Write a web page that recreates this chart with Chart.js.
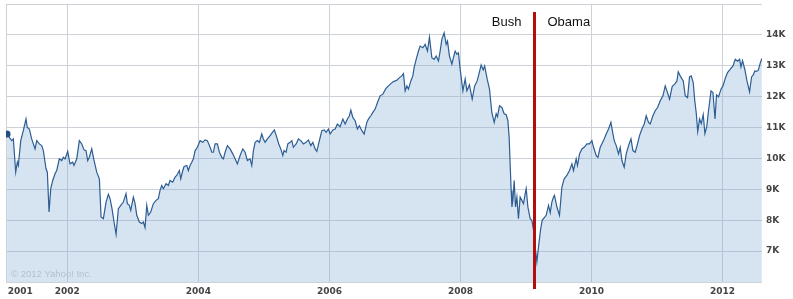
<!DOCTYPE html>
<html>
<head>
<meta charset="utf-8">
<script src="https://cdn.jsdelivr.net/npm/chart.js@4.4.0/dist/chart.umd.min.js"></script>
<style>
  html, body { margin: 0; padding: 0; background: #fff; }
  #chart { display: block; }
</style>
</head>
<body>
<canvas id="chart" width="793" height="299"></canvas>
<script>
// weekly closes: decimal year and index level
const weeks = [
  2001.080, 2001.151, 2001.176, 2001.212, 2001.237, 2001.252, 2001.289, 2001.328, 2001.369, 2001.389,
  2001.420, 2001.456, 2001.507, 2001.533, 2001.573, 2001.609, 2001.634, 2001.675, 2001.695, 2001.721,
  2001.747, 2001.777, 2001.812, 2001.838, 2001.878, 2001.915, 2001.939, 2001.965, 2002.006, 2002.041,
  2002.082, 2002.102, 2002.144, 2002.183, 2002.220, 2002.255, 2002.285, 2002.311, 2002.336, 2002.373,
  2002.408, 2002.449, 2002.489, 2002.515, 2002.550, 2002.591, 2002.626, 2002.652, 2002.682, 2002.713,
  2002.744, 2002.779, 2002.815, 2002.855, 2002.896, 2002.916, 2002.947, 2002.968, 2003.008, 2003.034,
  2003.060, 2003.099, 2003.136, 2003.160, 2003.186, 2003.212, 2003.237, 2003.273, 2003.313, 2003.354,
  2003.389, 2003.415, 2003.441, 2003.466, 2003.507, 2003.542, 2003.568, 2003.609, 2003.644, 2003.670,
  2003.710, 2003.731, 2003.762, 2003.782, 2003.823, 2003.847, 2003.873, 2003.899, 2003.924, 2003.950,
  2003.985, 2004.026, 2004.067, 2004.102, 2004.137, 2004.179, 2004.205, 2004.229, 2004.255, 2004.290,
  2004.321, 2004.357, 2004.382, 2004.408, 2004.443, 2004.484, 2004.525, 2004.560, 2004.595, 2004.637,
  2004.678, 2004.713, 2004.748, 2004.789, 2004.815, 2004.840, 2004.866, 2004.901, 2004.931, 2004.968,
  2004.992, 2005.018, 2005.053, 2005.095, 2005.130, 2005.160, 2005.197, 2005.227, 2005.258, 2005.289,
  2005.308, 2005.339, 2005.365, 2005.400, 2005.426, 2005.450, 2005.492, 2005.527, 2005.563, 2005.603,
  2005.644, 2005.679, 2005.716, 2005.747, 2005.782, 2005.808, 2005.847, 2005.884, 2005.919, 2005.950,
  2005.985, 2006.011, 2006.052, 2006.087, 2006.122, 2006.163, 2006.205, 2006.240, 2006.275, 2006.305,
  2006.327, 2006.357, 2006.392, 2006.427, 2006.458, 2006.495, 2006.530, 2006.571, 2006.595, 2006.632,
  2006.663, 2006.698, 2006.733, 2006.774, 2006.815, 2006.866, 2006.901, 2006.937, 2006.977, 2007.029,
  2007.069, 2007.105, 2007.130, 2007.156, 2007.182, 2007.206, 2007.243, 2007.273, 2007.293, 2007.324,
  2007.359, 2007.385, 2007.426, 2007.461, 2007.496, 2007.527, 2007.563, 2007.598, 2007.629, 2007.664,
  2007.690, 2007.716, 2007.751, 2007.782, 2007.802, 2007.832, 2007.869, 2007.893, 2007.919, 2007.945,
  2007.969, 2007.995, 2008.037, 2008.072, 2008.098, 2008.137, 2008.179, 2008.217, 2008.255, 2008.286,
  2008.316, 2008.347, 2008.369, 2008.408, 2008.443, 2008.479, 2008.515, 2008.545, 2008.565, 2008.595,
  2008.632, 2008.667, 2008.698, 2008.724, 2008.743, 2008.760, 2008.774, 2008.785, 2008.800, 2008.820,
  2008.840, 2008.861, 2008.885, 2008.911, 2008.937, 2008.962, 2008.988, 2009.003, 2009.029, 2009.064,
  2009.090, 2009.115, 2009.140, 2009.166, 2009.191, 2009.221, 2009.247, 2009.270, 2009.308, 2009.344,
  2009.370, 2009.395, 2009.420, 2009.435, 2009.472, 2009.511, 2009.548, 2009.583, 2009.624, 2009.664,
  2009.701, 2009.725, 2009.766, 2009.786, 2009.817, 2009.853, 2009.888, 2009.930, 2009.969, 2010.006,
  2010.031, 2010.072, 2010.098, 2010.133, 2010.183, 2010.224, 2010.260, 2010.296, 2010.327, 2010.347,
  2010.377, 2010.412, 2010.438, 2010.464, 2010.499, 2010.530, 2010.565, 2010.602, 2010.632, 2010.667,
  2010.702, 2010.733, 2010.769, 2010.805, 2010.835, 2010.870, 2010.896, 2010.937, 2010.972, 2011.008,
  2011.049, 2011.090, 2011.125, 2011.151, 2011.191, 2011.232, 2011.270, 2011.304, 2011.324, 2011.362,
  2011.400, 2011.431, 2011.466, 2011.496, 2011.522, 2011.553, 2011.576, 2011.598, 2011.621, 2011.649,
  2011.675, 2011.705, 2011.731, 2011.759, 2011.782, 2011.805, 2011.823, 2011.853, 2011.885, 2011.908,
  2011.939, 2011.976, 2012.006, 2012.041, 2012.076, 2012.118, 2012.159, 2012.194, 2012.229, 2012.260,
  2012.281, 2012.305, 2012.339, 2012.373, 2012.412, 2012.443, 2012.469, 2012.492, 2012.515, 2012.545,
  2012.576, 2012.600
];

const closes = [
  10790, 10577, 10631, 9555, 9877, 9771, 10577, 10899, 11276, 11005,
  10954, 10631, 10309, 10577, 10470, 10416, 10254, 9665, 9555, 8266,
  9020, 9287, 9503, 9610, 9987, 9932, 10038, 9987, 10232, 9826,
  9877, 9771, 9987, 10577, 10470, 10277, 10254, 9932, 10038, 10309,
  9932, 9555, 9342, 8105, 8053, 8588, 8836, 8698, 8375, 7943,
  7547, 8375, 8482, 8588, 8859, 8536, 8482, 8321, 8749, 8536,
  8159, 7943, 7892, 7943, 7763, 8482, 8159, 8266, 8536, 8643,
  8698, 8965, 9126, 9020, 9181, 9126, 9287, 9233, 9394, 9449,
  9610, 9342, 9610, 9739, 9771, 9610, 9771, 9877, 9987, 10254,
  10361, 10577, 10522, 10599, 10577, 10361, 10200, 10200, 10470, 10470,
  10200, 10038, 9987, 10200, 10416, 10309, 10148, 9987, 9826, 10093,
  10309, 10200, 9932, 9987, 9771, 10254, 10522, 10577, 10522, 10793,
  10631, 10522, 10631, 10738, 10844, 10922, 10683, 10470, 10309, 10093,
  10254, 10200, 10470, 10522, 10577, 10361, 10470, 10631, 10577, 10470,
  10522, 10599, 10416, 10522, 10309, 10232, 10577, 10899, 10922, 10844,
  10954, 10793, 10922, 10954, 11115, 11028, 11276, 11115, 11276, 11382,
  11566, 11328, 11221, 10954, 11060, 10899, 10793, 11167, 11276, 11382,
  11489, 11598, 11811, 12027, 12082, 12275, 12349, 12423, 12488, 12533,
  12617, 12672, 12746, 12188, 12349, 12243, 12510, 12672, 12939, 13210,
  13477, 13639, 13584, 13694, 13477, 13929, 13262, 13210, 13316, 13155,
  13477, 13854, 14067, 13694, 13800, 13316, 13049, 13262, 13477, 13371,
  13423, 12900, 12188, 12575, 12188, 12382, 11921, 12349, 12510, 12768,
  13026, 12865, 12994, 12565, 12243, 11479, 11167, 11447, 11350, 11705,
  11650, 11447, 11415, 11221, 10683, 9716, 8965, 8427, 8643, 9287,
  8427, 8749, 8053, 8749, 8643, 8536, 8859, 9020, 8427, 8053,
  7998, 7676, 7138, 6654, 7138, 7676, 7998, 8063, 8159, 8482,
  8240, 8588, 8749, 8804, 8427, 8159, 9072, 9342, 9449, 9610,
  9826, 9610, 9987, 9771, 10148, 10309, 10361, 10470, 10470, 10577,
  10361, 10093, 10038, 10361, 10577, 10793, 10954, 11167, 10793, 10577,
  10416, 10148, 10361, 9932, 9716, 10148, 10416, 10631, 10254, 10200,
  10470, 10738, 10954, 11115, 11382, 11167, 11115, 11382, 11544, 11650,
  11866, 12027, 12349, 12188, 11921, 12333, 12404, 12510, 12807, 12639,
  12510, 12027, 11972, 12639, 12672, 12446, 11866, 11479, 10867, 11276,
  11125, 11415, 10803, 11028, 11479, 11866, 12188, 12133, 11276, 12059,
  11995, 12243, 12349, 12591, 12778, 12888, 12994, 13210, 13145, 13210,
  12962, 13165, 12888, 12510, 12156, 12639, 12704, 12833, 12817, 12849,
  13091, 13236
];

const yearTicks = [2002, 2004, 2006, 2008, 2010, 2012];
const firstYearLabel = '2001';
const firstYearLabelAt = 2001.28;
const xStart = 2001.064;
const xEnd = 2012.602;
const yMin = 6000;
const yMax = 15000;

const dividerAt = 2009.115;
const leftLabel = 'Bush';
const rightLabel = 'Obama';
const creditText = '\u00a9 2012 Yahoo! Inc.';

const tickFont = { family: '"DejaVu Sans", Verdana, sans-serif', weight: 'bold', size: 9 };
const gridColor = '#cdd2d8';

// red divider, the two names and the faint credit line
const overlay = {
  id: 'overlay',
  afterDatasetsDraw(chart) {
    const { ctx, chartArea, scales } = chart;
    const x = Math.round(scales.x.getPixelForValue(dividerAt)) + 0.5;
    ctx.save();

    ctx.fillStyle = '#b4c1cc';
    ctx.font = '9.5px "Liberation Sans", Arial, sans-serif';
    ctx.textBaseline = 'middle';
    ctx.textAlign = 'left';
    ctx.fillText(creditText, chartArea.left + 5, chartArea.bottom - 8);

    ctx.strokeStyle = '#b30d0d';
    ctx.lineWidth = 3;
    ctx.beginPath();
    ctx.moveTo(x, chartArea.top + 8);
    ctx.lineTo(x, chartArea.bottom + 7);
    ctx.stroke();

    ctx.fillStyle = '#111';
    ctx.font = '13px "Liberation Sans", Arial, sans-serif';
    ctx.textBaseline = 'alphabetic';
    ctx.textAlign = 'right';
    ctx.fillText(leftLabel, x - 13, 26);
    ctx.textAlign = 'left';
    ctx.fillText(rightLabel, x + 13, 26);
    ctx.restore();
  }
};

const points = weeks.map((w, i) => ({ x: w, y: closes[i] }));

new Chart(document.getElementById('chart'), {
  type: 'line',
  data: {
    datasets: [{
      data: points,
      borderColor: '#2d5d93',
      borderWidth: 1.2,
      backgroundColor: 'rgba(115,165,205,0.3)',
      fill: 'start',
      tension: 0,
      pointRadius: (c) => c.dataIndex === 0 ? 3.5 : 0,
      pointBackgroundColor: '#1f4f85',
      pointBorderWidth: 0
    }]
  },
  options: {
    responsive: false,
    animation: false,
    layout: { padding: { left: 6, top: 3, right: 0, bottom: 0 } },
    plugins: {
      legend: { display: false },
      tooltip: { enabled: false }
    },
    scales: {
      x: {
        type: 'linear',
        min: xStart,
        max: xEnd,
        afterBuildTicks: (axis) => {
          axis.ticks = [xStart, firstYearLabelAt, ...yearTicks].map(v => ({ value: v }));
        },
        afterFit: (axis) => {
          axis.height = 17;
          axis.paddingLeft = 0;
          axis.paddingRight = 0;
        },
        ticks: {
          autoSkip: false,
          maxRotation: 0,
          padding: 4,
          color: '#444',
          font: tickFont,
          callback: (v) => v === firstYearLabelAt ? firstYearLabel : (yearTicks.includes(v) ? String(v) : '')
        },
        grid: {
          drawTicks: false,
          color: (c) => (c.tick && c.tick.value === firstYearLabelAt) ? 'rgba(0,0,0,0)' : gridColor
        },
        border: { display: false }
      },
      y: {
        position: 'right',
        min: yMin,
        max: yMax,
        afterFit: (axis) => {
          axis.width = 31;
          axis.paddingTop = 0;
          axis.paddingBottom = 0;
        },
        ticks: {
          stepSize: 1000,
          padding: 4,
          color: '#444',
          font: tickFont,
          callback: (v) => (v > yMin && v < yMax) ? (v / 1000) + 'K' : ''
        },
        grid: { drawTicks: false, color: gridColor },
        border: { display: false }
      }
    }
  },
  plugins: [overlay]
});
</script>
</body>
</html>
